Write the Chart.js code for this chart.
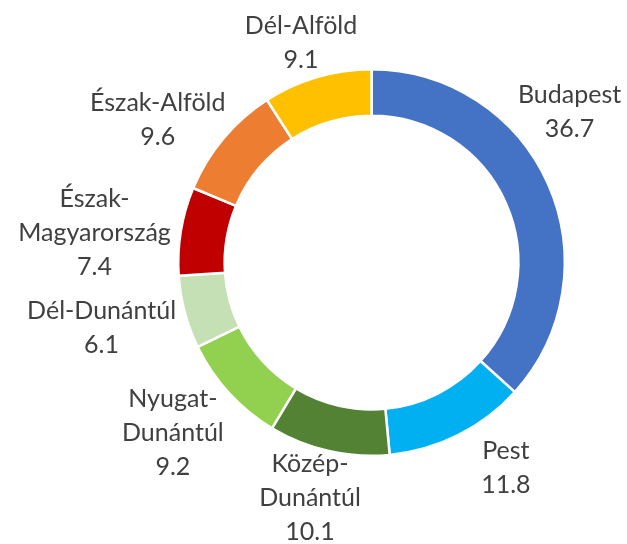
<!DOCTYPE html>
<html>
<head>
<meta charset="utf-8">
<script src="https://cdn.jsdelivr.net/npm/chart.js@4"></script>
<style>
  html, body { margin: 0; padding: 0; background: #fff; }
  #wrap { width: 627px; height: 544px; }
</style>
</head>
<body>
<div id="wrap"><canvas id="myChart" width="627" height="544"></canvas></div>
<script>
const categories = ['Budapest', 'Pest', 'Közép-Dunántúl', 'Nyugat-Dunántúl', 'Dél-Dunántúl', 'Észak-Magyarország', 'Észak-Alföld', 'Dél-Alföld'];
const shares = [36.7, 11.8, 10.1, 9.2, 6.1, 7.4, 9.6, 9.1];
const colors = ['#4472C4', '#00B0F0', '#548235', '#92D050', '#C5E0B4', '#C00000', '#ED7D31', '#FFC000'];

// labels sit outside the ring, nudged a bit like the original ones
const labelNudge = [[-27, -51], [24, -15], [-7, -5], [-17, 4], [-32, 2], [-34, 10], [-25, 16], [-1, 17]];
const FONT = '25px Lato';
const LINE_H = 34;

function splitLabel(name) {
  // long names break after the hyphen
  if (name.length > 12 && name.indexOf('-') > 0) {
    const i = name.indexOf('-') + 1;
    return [name.slice(0, i), name.slice(i)];
  }
  return [name];
}

const outsideLabels = {
  id: 'outsideLabels',
  afterDatasetsDraw(chart) {
    const ctx = chart.ctx;
    const meta = chart.getDatasetMeta(0);
    ctx.save();
    ctx.font = FONT;
    ctx.fillStyle = '#404040';
    ctx.textAlign = 'center';
    ctx.textBaseline = 'middle';
    meta.data.forEach((arc, i) => {
      const mid = (arc.startAngle + arc.endAngle) / 2;
      const r = arc.outerRadius + 53;
      const cx = arc.x + Math.cos(mid) * r + labelNudge[i][0];
      const cy = arc.y + Math.sin(mid) * r + labelNudge[i][1];
      const lines = splitLabel(categories[i]).concat([shares[i].toFixed(1)]);
      const top = cy - (lines.length - 1) * LINE_H / 2;
      lines.forEach((t, k) => ctx.fillText(t, cx, top + k * LINE_H));
    });
    ctx.restore();
  }
};

const ctx = document.getElementById('myChart').getContext('2d');
const myChart = new Chart(ctx, {
  type: 'doughnut',
  data: {
    labels: categories,
    datasets: [{
      data: shares,
      backgroundColor: colors,
      borderColor: '#ffffff',
      borderWidth: 2.5
    }]
  },
  options: {
    responsive: false,
    animation: false,
    cutout: '76%',
    layout: { padding: { left: 177, right: 61, top: 68, bottom: 87 } },
    plugins: {
      legend: { display: false },
      tooltip: { enabled: false }
    }
  },
  plugins: [outsideLabels]
});
</script>
</body>
</html>
